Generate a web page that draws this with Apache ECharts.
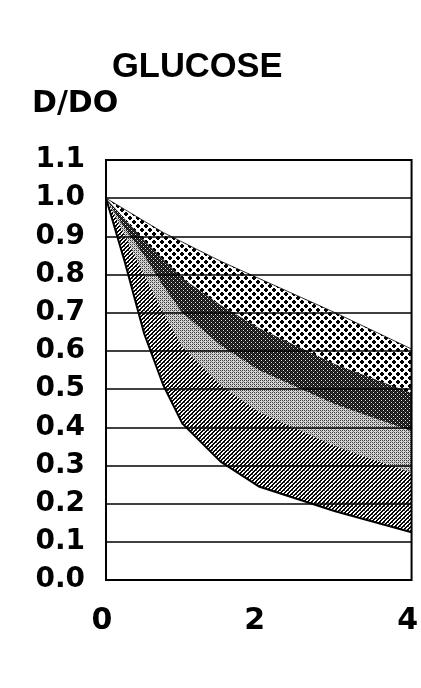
<!DOCTYPE html>
<html>
<head>
<meta charset="utf-8">
<script src="https://cdn.jsdelivr.net/npm/echarts@6/dist/echarts.min.js"></script>
<style>
html,body{margin:0;padding:0;background:#fff;overflow:hidden;}
#chart{width:421px;height:688px;}
</style>
</head>
<body>
<div id="chart"></div>
<script>
// Data (time on x, D/D0 on y)
var xValues = [0, 0.25, 0.5, 0.75, 1, 1.5, 2, 3, 4];
var curveA = [1.0, 0.97, 0.94, 0.91, 0.885, 0.835, 0.79, 0.70, 0.605];
var curveB = [1.0, 0.945, 0.89, 0.84, 0.79, 0.72, 0.66, 0.565, 0.49];
var curveC = [1.0, 0.92, 0.85, 0.77, 0.70, 0.615, 0.55, 0.46, 0.39];
var curveD = [1.0, 0.90, 0.80, 0.70, 0.61, 0.51, 0.44, 0.35, 0.28];
var curveE = [1.0, 0.83, 0.645, 0.51, 0.41, 0.31, 0.245, 0.18, 0.125];
var xTicks = [0, 2, 4];
var yTickLabels = ['0.0','0.1','0.2','0.3','0.4','0.5','0.6','0.7','0.8','0.9','1.0','1.1'];
var titleText = 'GLUCOSE';
var yName = 'D/DO';

function pixelPattern(w, h, fn) {
  var c = document.createElement('canvas');
  c.width = w; c.height = h;
  var ctx = c.getContext('2d');
  var img = ctx.createImageData(w, h);
  for (var j = 0; j < h; j++) {
    for (var i = 0; i < w; i++) {
      var v = fn(i, j);
      var k = (j * w + i) * 4;
      img.data[k] = v; img.data[k+1] = v; img.data[k+2] = v; img.data[k+3] = 255;
    }
  }
  ctx.putImageData(img, 0, 0);
  return {image: c, repeat: 'repeat'};
}
// coarse black diamonds on white
var dotsPat = pixelPattern(8, 8, function(i, j) {
  var d1 = Math.abs(i - 1.5) + Math.abs(j - 1.5);
  var d2 = Math.abs(i - 5.5) + Math.abs(j - 5.5);
  return (d1 <= 2 || d2 <= 2) ? 0 : 255;
});
// dense dark checker
var darkPat = pixelPattern(4, 4, function(i, j) {
  if ((i + j) % 2 === 0) return 10;
  return ((i % 4 === 1 && j % 4 === 0) || (i % 4 === 3 && j % 4 === 2)) ? 230 : 60;
});
// light grey stipple
var lightPat = pixelPattern(4, 4, function(i, j) {
  if ((i % 2 === 0) && (j % 2 === 0)) return 60;
  if ((i === 1 && j === 3) || (i === 3 && j === 1)) return 130;
  return 215;
});
// medium diagonal checker
var medPat = pixelPattern(4, 4, function(i, j) {
  if ((i + j) % 4 < 2) return 0;
  return (i === 0 && j === 2) ? 90 : 255;
});

function pts(ys) {
  return xValues.map(function(x, k) { return [x, ys[k]]; });
}
function band(name, ys, pat, z, lw) {
  return {
    name: name, type: 'line', data: pts(ys), symbol: 'none', z: z,
    lineStyle: {color: '#000', width: lw},
    areaStyle: {color: pat, opacity: 1, origin: 'start'},
    animation: false
  };
}

var chart = echarts.init(document.getElementById('chart'), null, {renderer: 'canvas'});
chart.setOption({
  backgroundColor: '#fff',
  animation: false,
  graphic: [{
    type: 'text', left: 112, top: 50,
    style: {text: titleText, fontFamily: 'Liberation Sans', fontWeight: 'bold', fontSize: 34.5, fill: '#000'}
  }, {
    type: 'text', left: 32, top: 89,
    style: {text: yName, fontFamily: 'DejaVu Sans', fontWeight: 'bold', fontSize: 30, fill: '#000'}
  }],
  grid: {left: 106, right: 8, top: 160, bottom: 108, show: true, borderColor: '#000', borderWidth: 2, z: 10, backgroundColor: 'transparent'},
  xAxis: {
    type: 'value', min: 0, max: 4, interval: 2,
    axisLine: {show: false}, axisTick: {show: false}, splitLine: {show: false},
    axisLabel: {
      margin: 26, color: '#000', fontFamily: 'DejaVu Sans', fontWeight: 'bold', fontSize: 30,
      padding: [0, 8, 0, 0],
      formatter: function(v) { return xTicks.indexOf(v) >= 0 ? String(v) : ''; }
    }
  },
  yAxis: {
    type: 'value', min: 0, max: 1.1, interval: 0.1, z: 5,
    axisLine: {show: false}, axisTick: {show: false},
    splitLine: {show: true, lineStyle: {color: '#000', width: 1.5}},
    axisLabel: {
      margin: 21, color: '#000', fontFamily: 'DejaVu Sans', fontWeight: 'bold', fontSize: 28,
      formatter: function(v) { return yTickLabels[Math.round(v * 10)]; }
    }
  },
  series: [
    band('A', curveA, dotsPat, 1, 0.8),
    band('B', curveB, darkPat, 2, 0),
    band('C', curveC, lightPat, 3, 0),
    band('D', curveD, medPat, 4, 0),
    band('E', curveE, '#ffffff', 4.5, 2)
  ]
});
</script>
</body>
</html>
